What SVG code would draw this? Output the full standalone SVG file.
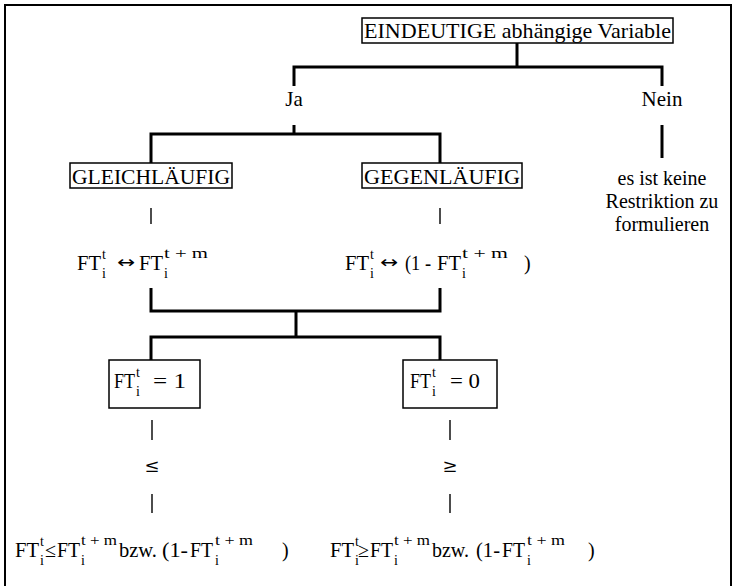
<svg xmlns="http://www.w3.org/2000/svg" width="735" height="586" viewBox="0 0 735 586">
<style>
text{font-family:"Liberation Serif","Times New Roman",serif;fill:#000}
.t{font-size:20px}
.b{font-size:21px}
.s{font-size:14px}
.m{text-anchor:middle}
.ar{font-family:"DejaVu Sans",sans-serif;font-size:17px}
.rel{font-family:"DejaVu Serif",serif;font-size:18px}
.box{fill:#fff;stroke:#000;stroke-width:1.5}
.thick{stroke:#000;stroke-width:3;fill:none}
.thin{stroke:#000;stroke-width:1.4;fill:none}
</style>
<rect x="0" y="0" width="735" height="586" fill="#fff"/>
<rect x="5" y="5" width="726" height="600" fill="none" stroke="#000" stroke-width="2"/>

<g id="connectors">
<path class="thick" d="M517 43V67M294 86V67H662V86"/>
<path class="thick" d="M294 125V134M151 163V134H440V163"/>
<path class="thick" d="M662 125V158"/>
<line class="thin" x1="151" y1="208" x2="151" y2="224"/>
<line class="thin" x1="440" y1="208" x2="440" y2="224"/>
<path class="thick" d="M151 288V311H440V288M296 311V337M151 360V337H440V360"/>
<line class="thin" x1="152" y1="420" x2="152" y2="440"/>
<line class="thin" x1="450" y1="420" x2="450" y2="440"/>
<line class="thin" x1="152" y1="494" x2="152" y2="513"/>
<line class="thin" x1="450" y1="494" x2="450" y2="513"/>
</g>

<g id="root">
<rect class="box" x="362" y="18" width="311" height="25"/>
<text class="b" x="364" y="38" textLength="307" lengthAdjust="spacingAndGlyphs">EINDEUTIGE abhängige Variable</text>
</g>
<g id="ja"><text class="b m" x="294" y="106">Ja</text></g>
<g id="nein"><text class="b m" x="662" y="106">Nein</text></g>
<g id="nein-text">
<text class="t m" x="662" y="185">es ist keine</text>
<text class="t m" x="662" y="208">Restriktion zu</text>
<text class="t m" x="662" y="231">formulieren</text>
</g>
<g id="gleich">
<rect class="box" x="70" y="163" width="162" height="25"/>
<text class="b" x="72" y="184" textLength="158" lengthAdjust="spacingAndGlyphs">GLEICHLÄUFIG</text>
</g>
<g id="gegen">
<rect class="box" x="362" y="163" width="160" height="25"/>
<text class="b" x="364" y="184" textLength="156" lengthAdjust="spacingAndGlyphs">GEGENLÄUFIG</text>
</g>
<g id="formel1">
<text class="t" x="77" y="270" textLength="24" lengthAdjust="spacingAndGlyphs">FT</text>
<text class="s" x="102" y="259">t</text>
<text class="s" x="102" y="278">i</text>
<text class="ar" x="117" y="268" textLength="18" lengthAdjust="spacingAndGlyphs">↔</text>
<text class="t" x="139" y="270" textLength="24" lengthAdjust="spacingAndGlyphs">FT</text>
<text class="s" x="164" y="258" textLength="44" lengthAdjust="spacingAndGlyphs">t + m</text>
<text class="s" x="164" y="278">i</text>
</g>
<g id="formel2">
<text class="t" x="345" y="270" textLength="24" lengthAdjust="spacingAndGlyphs">FT</text>
<text class="s" x="370" y="259">t</text>
<text class="s" x="370" y="278">i</text>
<text class="ar" x="380" y="268" textLength="18" lengthAdjust="spacingAndGlyphs">↔</text>
<text class="t" x="405" y="270" textLength="26" lengthAdjust="spacingAndGlyphs">(1 -</text>
<text class="t" x="437" y="270" textLength="24" lengthAdjust="spacingAndGlyphs">FT</text>
<text class="s" x="462" y="258" textLength="46" lengthAdjust="spacingAndGlyphs">t + m</text>
<text class="s" x="462" y="278">i</text>
<text class="t" x="524" y="270">)</text>
</g>
<g id="fall1">
<rect class="box" x="109" y="360" width="91" height="48"/>
<text class="t" x="114" y="388" textLength="21" lengthAdjust="spacingAndGlyphs">FT</text>
<text class="s" x="136" y="377">t</text>
<text class="s" x="136" y="396">i</text>
<text class="t" x="153" y="388" textLength="33" lengthAdjust="spacingAndGlyphs">= 1</text>
</g>
<g id="fall0">
<rect class="box" x="403" y="360" width="94" height="48"/>
<text class="t" x="410" y="388" textLength="21" lengthAdjust="spacingAndGlyphs">FT</text>
<text class="s" x="432" y="377">t</text>
<text class="s" x="432" y="396">i</text>
<text class="t" x="450" y="388" textLength="30" lengthAdjust="spacingAndGlyphs">= 0</text>
</g>
<g id="le"><text class="rel m" x="152" y="472">≤</text></g>
<g id="ge"><text class="rel m" x="450" y="472">≥</text></g>
<g id="ergebnis1">
<text class="t" x="15" y="557" textLength="24" lengthAdjust="spacingAndGlyphs">FT</text>
<text class="s" x="40" y="546">t</text>
<text class="s" x="40" y="565">i</text>
<text class="t" x="45" y="557">≤</text>
<text class="t" x="57" y="557" textLength="23" lengthAdjust="spacingAndGlyphs">FT</text>
<text class="s" x="81" y="545" textLength="36" lengthAdjust="spacingAndGlyphs">t + m</text>
<text class="s" x="81" y="565">i</text>
<text class="t" x="119" y="557" textLength="38" lengthAdjust="spacingAndGlyphs">bzw.</text>
<text class="t" x="162" y="557" textLength="26" lengthAdjust="spacingAndGlyphs">(1-</text>
<text class="t" x="190" y="557" textLength="23" lengthAdjust="spacingAndGlyphs">FT</text>
<text class="s" x="215" y="545" textLength="38" lengthAdjust="spacingAndGlyphs">t + m</text>
<text class="s" x="215" y="565">i</text>
<text class="t" x="282" y="557">)</text>
</g>
<g id="ergebnis2">
<text class="t" x="330" y="557" textLength="24" lengthAdjust="spacingAndGlyphs">FT</text>
<text class="s" x="355" y="546">t</text>
<text class="s" x="355" y="565">i</text>
<text class="t" x="358" y="557">≥</text>
<text class="t" x="370" y="557" textLength="23" lengthAdjust="spacingAndGlyphs">FT</text>
<text class="s" x="394" y="545" textLength="36" lengthAdjust="spacingAndGlyphs">t + m</text>
<text class="s" x="394" y="565">i</text>
<text class="t" x="432" y="557" textLength="37" lengthAdjust="spacingAndGlyphs">bzw.</text>
<text class="t" x="476" y="557" textLength="24" lengthAdjust="spacingAndGlyphs">(1-</text>
<text class="t" x="502" y="557" textLength="23" lengthAdjust="spacingAndGlyphs">FT</text>
<text class="s" x="527" y="545" textLength="38" lengthAdjust="spacingAndGlyphs">t + m</text>
<text class="s" x="527" y="565">i</text>
<text class="t" x="588" y="557">)</text>
</g>
</svg>
